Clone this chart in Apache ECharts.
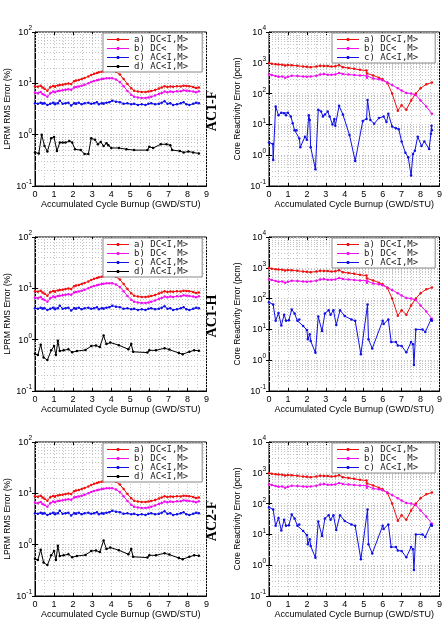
<!DOCTYPE html>
<html>
<head>
<meta charset="utf-8">
<script src="https://cdn.jsdelivr.net/npm/echarts@6.0.0/dist/echarts.min.js"></script>
<style>
  html, body { margin: 0; padding: 0; background: #fff; }
  #chart { width: 445px; height: 631px; }
</style>
</head>
<body>
<div id="chart"></div>
<script>
// burnup points (GWD/STU) shared by the DC / AC<I,M> LPRM curves
var burnupLPRM = [0, 0.15, 0.3, 0.4, 0.5, 0.65, 0.8, 0.95, 1.05, 1.2, 1.3, 1.45, 1.6, 1.75, 1.9, 2.05, 2.15, 2.3, 2.45, 2.6,
  2.8, 2.95, 3.1, 3.25, 3.35, 3.5, 3.6, 3.75, 3.9, 4.05, 4.25, 4.45, 4.65, 4.85, 5.05, 5.2, 5.4, 5.6, 5.8, 5.95,
  6.1, 6.3, 6.5, 6.65, 6.8, 6.95, 7.1, 7.25, 7.45, 7.65, 7.8, 7.95, 8.1, 8.3, 8.45, 8.6];
// LPRM RMS error (%)
var lprmDCIM = [8.8, 8.6, 9.0, 8.3, 7.8, 7.2, 8.4, 8.9, 8.6, 9.1, 9.3, 9.4, 9.7, 9.9, 9.7, 11.0, 11.3, 11.6, 12.1, 12.7,
  13.6, 14.5, 15.3, 15.9, 16.4, 16.9, 17.2, 17.6, 17.8, 17.7, 16.8, 14.8, 12.2, 9.7, 8.0, 7.2, 6.9, 6.8, 6.8, 6.9,
  7.1, 7.4, 7.9, 8.3, 8.8, 8.5, 8.7, 8.6, 8.8, 8.7, 9.0, 8.9, 8.8, 8.5, 8.1, 8.3];
var lprmDCM = [6.6, 6.4, 6.8, 6.2, 5.9, 5.5, 6.4, 6.9, 6.7, 7.1, 7.2, 7.3, 7.5, 7.7, 7.5, 8.3, 8.5, 8.7, 9.0, 9.4,
  10.0, 10.6, 11.1, 11.5, 11.8, 12.1, 12.3, 12.5, 12.6, 12.5, 11.9, 10.6, 8.8, 7.1, 6.0, 5.5, 5.3, 5.2, 5.2, 5.3,
  5.5, 5.8, 6.2, 6.5, 6.9, 6.7, 6.9, 6.8, 7.0, 7.0, 7.3, 7.2, 7.1, 6.9, 6.7, 7.0];
var lprmACIM = [4.1, 4.0, 4.2, 4.0, 4.1, 3.8, 4.0, 4.2, 3.9, 4.1, 4.6, 4.0, 4.1, 4.2, 3.7, 4.1, 4.0, 4.2, 3.9, 4.1,
  4.2, 4.0, 4.1, 4.3, 3.9, 4.1, 4.0, 4.2, 4.3, 4.6, 4.4, 4.3, 4.0, 4.1, 3.9, 4.0, 3.8, 3.9, 3.8, 4.0,
  4.1, 3.9, 4.0, 4.2, 4.5, 4.0, 4.1, 3.8, 3.9, 4.1, 4.3, 3.9, 3.8, 4.0, 4.2, 4.1];
// d) curves, AC1-F and AC1-H / AC2-F
var burnupF = [0, 0.2, 0.35, 0.5, 0.65, 0.85, 1.0, 1.15, 1.3, 1.45, 1.6, 1.8, 1.95, 2.1, 2.4, 2.6, 2.8, 2.95, 3.15, 3.3,
  3.45, 3.6, 3.75, 3.85, 4.0, 4.4, 4.8, 5.2, 5.9, 6.0, 6.2, 6.6, 6.9, 7.1, 7.2, 7.6, 7.8, 8.05, 8.3, 8.6];
var lprmAC1F = [0.45, 0.43, 1.0, 0.6, 0.47, 0.85, 0.9, 0.48, 0.7, 0.7, 0.7, 0.75, 0.7, 0.52, 0.5, 0.42, 0.42, 0.85, 0.8, 0.65,
  0.72, 0.6, 0.68, 0.62, 0.55, 0.55, 0.52, 0.5, 0.5, 0.58, 0.55, 0.65, 0.65, 0.62, 0.5, 0.48, 0.45, 0.47, 0.45, 0.43];
var burnupH = [0, 0.15, 0.3, 0.45, 0.65, 0.85, 1.0, 1.1, 1.2, 1.3, 1.5, 1.75, 1.95, 2.2, 2.65, 2.95, 3.2, 3.4, 3.6, 3.75,
  3.95, 4.4, 4.9, 5.05, 5.15, 5.9, 6.0, 6.35, 6.8, 7.05, 7.55, 7.75, 8.1, 8.35, 8.6];
var lprmAC1H = [0.53, 0.5, 0.8, 0.45, 0.4, 0.62, 0.75, 0.5, 0.95, 0.6, 0.62, 0.65, 0.57, 0.6, 0.63, 0.75, 0.77, 0.72, 1.2, 0.82,
  0.88, 0.78, 0.65, 0.82, 0.58, 0.56, 0.62, 0.62, 0.68, 0.64, 0.55, 0.52, 0.58, 0.62, 0.61];

// core reactivity error (pcm)
var burnupRho = [0, 0.15, 0.35, 0.5, 0.7, 0.85, 1.0, 1.2, 1.5, 1.8, 2.0, 2.2, 2.5, 2.7, 2.9, 3.1, 3.3, 3.5, 3.7, 3.9,
  4.2, 4.5, 4.8, 5.15, 5.17, 5.5, 5.8, 6.0, 6.25, 6.5, 6.8, 7.0, 7.25, 7.5, 7.75, 8.0, 8.3, 8.6];
var rhoDCIM = [980, 930, 900, 880, 870, 820, 850, 830, 800, 760, 740, 720, 760, 800, 790, 780, 760, 770, 840, 720,
  680, 640, 590, 560, 450, 390, 330, 290, 220, 100, 28, 42, 30, 60, 100, 150, 200, 230];
var rhoDCM = [420, 400, 370, 350, 360, 330, 350, 380, 370, 360, 350, 360, 380, 420, 430, 410, 410, 420, 470, 430,
  420, 400, 390, 380, 330, 310, 290, 270, 230, 190, 150, 125, 105, 100, 90, 60, 38, 22];
var rhoBurnupF = [0, 0.2, 0.22, 0.35, 0.5, 0.65, 0.8, 0.9, 1.0, 1.15, 1.25, 1.35, 1.45, 1.6, 1.65, 1.9, 2.0, 2.1, 2.15, 2.2,
  2.45, 2.6, 2.75, 2.85, 2.95, 3.1, 3.2, 3.35, 3.45, 3.5, 3.7, 3.9, 4.25, 4.55, 4.95, 5.15, 5.2, 5.35, 5.55, 5.8,
  6.05, 6.2, 6.3, 6.5, 6.7, 6.85, 7.0, 7.2, 7.35, 7.5, 7.6, 7.7, 7.85, 8.05, 8.2, 8.45, 8.55, 8.58, 8.6];
var rhoAC1F = [2.6, 2.3, 0.7, 38, 20, 24, 23, 20, 24, 18, 11, 6.5, 6.5, 3.5, 1.8, 4, 3.2, 20, 14, 1.8,
  0.35, 30, 26, 18, 21, 26, 18, 10, 15, 9, 40, 21, 4.5, 0.65, 13, 15, 62, 14, 10.5, 16,
  18, 12, 22, 8.5, 7.5, 7, 2.8, 1.2, 0.85, 0.22, 1.1, 1.4, 4, 2, 2.8, 1.6, 5, 9, 6.5];
var rhoBurnupH = [0, 0.22, 0.35, 0.5, 0.65, 0.8, 0.9, 1.05, 1.2, 1.35, 1.5, 1.6, 1.8, 2.0, 2.05, 2.15, 2.2, 2.45, 2.6, 2.8,
  2.95, 3.15, 3.25, 3.4, 3.55, 3.75, 4.0, 4.35, 4.55, 4.85, 5.2, 5.25, 5.45, 6.0, 6.05, 6.3, 6.45, 6.7, 6.8, 7.0,
  7.25, 7.5, 7.6, 7.65, 7.75, 8.1, 8.25, 8.55, 8.6];
var rhoAC1H = [76, 64, 19, 34, 13.5, 30, 19, 20, 44, 33, 19, 21, 13, 9.5, 4.8, 6.9, 4.2, 1.75, 26, 8.8,
  33, 42, 30, 42, 14, 42, 27, 21, 19, 1.55, 64, 4.8, 2.4, 19, 15, 21, 3.9, 3.9, 3.0, 2.9,
  1.8, 3.9, 3.3, 0.7, 10, 10, 8.3, 21, 19];

var seriesNames = ['a) DC<I,M>', 'b) DC<  M>', 'c) AC<I,M>', 'd) AC<I,M>'];
var seriesColors = ['#f01010', '#f010f0', '#1010e8', '#000000'];
var caseTags = ['AC1-F', 'AC1-H', 'AC2-F'];

var FONT = '"Liberation Sans", Arial, sans-serif';
var rowTops = [32, 237, 442];
var plotH = 154;
var colLeft = [35, 269];
var plotW = 171.5;
var gridDots = {type: [1, 2], color: '#c4c4c4', width: 1};
// legend marker: thin line with a small dot in the middle
var legendIcon = 'path://M0,1L22,1L22,2L0,2Z M9.8,0L12.2,0L12.2,3L9.8,3Z';

function pairs(xs, ys) {
  return xs.map(function (x, i) { return [x, ys[i]]; });
}

// dotted log minor lines (2..9 in each decade)
function minorLogLines(lo, hi) {
  var out = [];
  for (var e = lo; e < hi; e++) {
    for (var k = 2; k <= 9; k++) out.push({yAxis: k * Math.pow(10, e)});
  }
  return out;
}

var grids = [], xAxes = [], yAxes = [], series = [], legends = [], graphics = [];

function addPanel(k, left, top, isRho, lines, yName, nameGap) {
  grids.push({left: left, top: top, width: plotW, height: plotH, show: true, borderColor: '#000', borderWidth: 1});
  xAxes.push({
    gridIndex: k, type: 'value', min: 0, max: 9, interval: 1,
    axisLine: {show: true, lineStyle: {color: '#000', width: 1}},
    axisTick: {inside: true, length: 3, lineStyle: {color: '#000'}},
    minorTick: {show: false, splitNumber: 2},
    axisLabel: {fontSize: 9, color: '#000', margin: 4, fontFamily: FONT},
    splitLine: {show: true, lineStyle: gridDots},
    minorSplitLine: {show: true, lineStyle: gridDots},
    name: 'Accumulated Cycle Burnup (GWD/STU)', nameLocation: 'middle', nameGap: 13,
    nameTextStyle: {fontSize: 9, color: '#000', fontFamily: FONT}
  });
  xAxes.push({
    gridIndex: k, type: 'value', position: 'top', min: 0, max: 9, interval: 1,
    axisLine: {show: false}, axisTick: {inside: true, length: 3, lineStyle: {color: '#000'}},
    axisLabel: {show: false}, splitLine: {show: false}
  });
  var yMax = isRho ? 10000 : 100;
  yAxes.push({
    gridIndex: k, type: 'log', logBase: 10, min: 0.1, max: yMax,
    axisLine: {show: true, lineStyle: {color: '#000', width: 1}},
    axisTick: {inside: true, length: 3, lineStyle: {color: '#000'}},
    axisLabel: {
      color: '#000', margin: 3, fontFamily: FONT,
      formatter: function (v) {
        return '{b|10}{e|' + Math.round(Math.log10(v)) + '}';
      },
      rich: {
        b: {fontSize: 9, lineHeight: 10, verticalAlign: 'bottom', fontFamily: FONT, color: '#000'},
        e: {fontSize: 6.5, lineHeight: 7, padding: [0, 0, 7, 0], fontFamily: FONT, color: '#000'}
      }
    },
    splitLine: {show: true, lineStyle: gridDots},
    name: yName, nameLocation: 'middle', nameGap: nameGap,
    nameTextStyle: {fontSize: 8.5, color: '#000', fontFamily: FONT}
  });
  yAxes.push({
    gridIndex: k, type: 'log', logBase: 10, min: 0.1, max: yMax, position: 'right',
    axisLine: {show: false}, axisTick: {inside: true, length: 3, lineStyle: {color: '#000'}},
    axisLabel: {show: false}, splitLine: {show: false}
  });

  lines.forEach(function (ln, i) {
    var s = {
      name: seriesNames[ln.idx], type: 'line', xAxisIndex: 2 * k, yAxisIndex: 2 * k,
      data: pairs(ln.x, ln.y), symbol: 'circle', symbolSize: 2.5, showSymbol: true,
      color: seriesColors[ln.idx], lineStyle: {width: 1, color: seriesColors[ln.idx]},
      itemStyle: {color: seriesColors[ln.idx]}, animation: false, z: 3
    };
    if (i === 0) {
      s.markLine = {
        z: 1, silent: true, symbol: 'none', animation: false, label: {show: false},
        lineStyle: gridDots, emphasis: {disabled: true},
        data: minorLogLines(-1, isRho ? 4 : 2)
      };
    }
    series.push(s);
  });

  legends.push({
    orient: 'vertical', left: isRho ? left + 63 : left + 68, top: top + 1,
    data: lines.map(function (ln) { return {name: seriesNames[ln.idx], icon: legendIcon}; }),
    itemWidth: 22, itemHeight: 3, itemGap: 0,
    padding: isRho ? [2, 17, 1, 5] : [2, 14, 1, 4],
    borderColor: '#888', borderWidth: 1, backgroundColor: '#fff',
    selectedMode: false, z: 6,
    textStyle: {fontFamily: '"DejaVu Sans Mono", "Liberation Mono", monospace', fontSize: 9, color: '#222', lineHeight: 9}
  });
}

for (var r = 0; r < 3; r++) {
  var blackX = r === 0 ? burnupF : burnupH;
  var blackY = r === 0 ? lprmAC1F : lprmAC1H;
  var blueX = r === 0 ? rhoBurnupF : rhoBurnupH;
  var blueY = r === 0 ? rhoAC1F : rhoAC1H;
  addPanel(2 * r, colLeft[0], rowTops[r], false, [
    {idx: 0, x: burnupLPRM, y: lprmDCIM},
    {idx: 1, x: burnupLPRM, y: lprmDCM},
    {idx: 2, x: burnupLPRM, y: lprmACIM},
    {idx: 3, x: blackX, y: blackY}
  ], 'LPRM RMS Error (%)', 18);
  addPanel(2 * r + 1, colLeft[1], rowTops[r], true, [
    {idx: 0, x: burnupRho, y: rhoDCIM},
    {idx: 1, x: burnupRho, y: rhoDCM},
    {idx: 2, x: blueX, y: blueY}
  ], 'Core Reactivity Error (pcm)', 27);
  graphics.push({
    type: 'text', x: 212, y: rowTops[r] + 79, rotation: Math.PI / 2, z: 10,
    style: {
      text: caseTags[r], font: 'bold 14px "Liberation Serif", "DejaVu Serif", serif', fill: '#000',
      textAlign: 'center', textVerticalAlign: 'middle', align: 'center', verticalAlign: 'middle'
    }
  });
}

var chart = echarts.init(document.getElementById('chart'), null, {renderer: 'canvas'});
chart.setOption({
  animation: false,
  backgroundColor: '#fff',
  grid: grids,
  xAxis: xAxes,
  yAxis: yAxes,
  legend: legends,
  graphic: graphics,
  series: series
});
</script>
</body>
</html>
